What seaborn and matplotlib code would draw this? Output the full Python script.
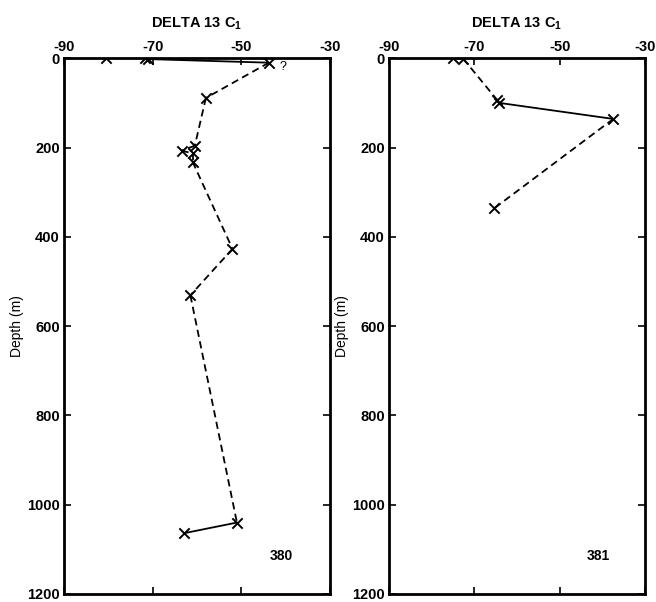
import matplotlib
matplotlib.use("Agg")
import matplotlib.pyplot as plt
import seaborn as sns
import pandas as pd

# Site 380: delta 13 C1 (per mil) against depth (m), in sampling order
delta_380 = [-80.5, -71.8, -71.0, -43.8, -58.0, -60.5, -63.5, -61.0, -61.0, -52.0, -61.5, -51.0, -63.0]
depth_380 = [0, 0, 2, 10, 89, 196, 207, 213, 232, 427, 531, 1040, 1064]
# Line style of the link from each point to the next one
links_380 = ["solid", "solid", "solid", "dashed", "dashed", "dashed", "dashed", "dashed",
             "dashed", "dashed", "dashed", "solid"]

# Site 381
delta_381 = [-74.9, -72.6, -64.6, -64.2, -37.4, -65.3]
depth_381 = [0, 1, 94, 100, 136, 336]
links_381 = ["solid", "dashed", "dashed", "solid", "dashed"]

x_ticks = [-90, -70, -50, -30]
y_ticks = [0, 200, 400, 600, 800, 1000, 1200]
sites = ["380", "381"]

sns.set_theme(style="white")
plt.rcParams["font.family"] = ["Liberation Sans", "DejaVu Sans"]
plt.rcParams["mathtext.default"] = "regular"
plt.rcParams["axes.unicode_minus"] = False
plt.rcParams["text.color"] = "black"
plt.rcParams["axes.labelcolor"] = "black"


def segments(delta, depth, links):
    rows = []
    for i, style in enumerate(links):
        for j in (i, i + 1):
            rows.append({"delta": delta[j], "depth": depth[j], "seg": i, "link": style})
    return pd.DataFrame(rows)


fig = plt.figure(figsize=(6.56, 6.02), dpi=100)
axes = [fig.add_axes([0.0976, 0.0133, 0.4055, 0.890]),
        fig.add_axes([0.593, 0.0133, 0.390, 0.890])]

data = [(delta_380, depth_380, links_380), (delta_381, depth_381, links_381)]

for ax, (delta, depth, links), site in zip(axes, data, sites):
    seg = segments(delta, depth, links)
    sns.lineplot(data=seg, x="delta", y="depth", units="seg", style="link",
                 estimator=None, sort=False, color="black", linewidth=1.3,
                 dashes={"solid": "", "dashed": (4, 2.5)}, legend=False, ax=ax)
    pts = pd.DataFrame({"delta": delta, "depth": depth})
    sns.scatterplot(data=pts, x="delta", y="depth", marker="x", s=55,
                    color="black", linewidth=1.4, ax=ax, zorder=5)

    ax.set_xlim(-90, -30)
    ax.set_ylim(1200, 0)
    ax.set_xticks(x_ticks)
    ax.set_xticklabels([str(v) for v in x_ticks])
    ax.set_yticks(y_ticks)
    ax.set_yticklabels([str(v) for v in y_ticks])
    ax.xaxis.set_ticks_position("both")
    ax.yaxis.set_ticks_position("both")
    ax.tick_params(axis="both", which="both", direction="in", length=5, width=1.2,
                   labelsize=10.5, labeltop=True, labelbottom=False,
                   labelleft=True, labelright=False, pad=3, colors="black")
    for lbl in ax.get_xticklabels() + ax.get_yticklabels():
        lbl.set_fontweight("bold")
    for sp in ax.spines.values():
        sp.set_linewidth(2)
        sp.set_color("black")
    ax.set_xlabel("")
    ax.set_ylabel("Depth (m)", fontsize=10, labelpad=2, color="black")
    ax.set_title("DELTA 13 C$_1$", fontsize=10.5, fontweight="bold", pad=22, color="black")
    ax.text(-41, 1115, site, fontsize=10, fontweight="bold", ha="center", va="center",
            color="black")

axes[0].text(-41.5, 20, "?", fontsize=9, ha="left", va="center", color="black")

fig.savefig("out.png", dpi=100, facecolor="white")
